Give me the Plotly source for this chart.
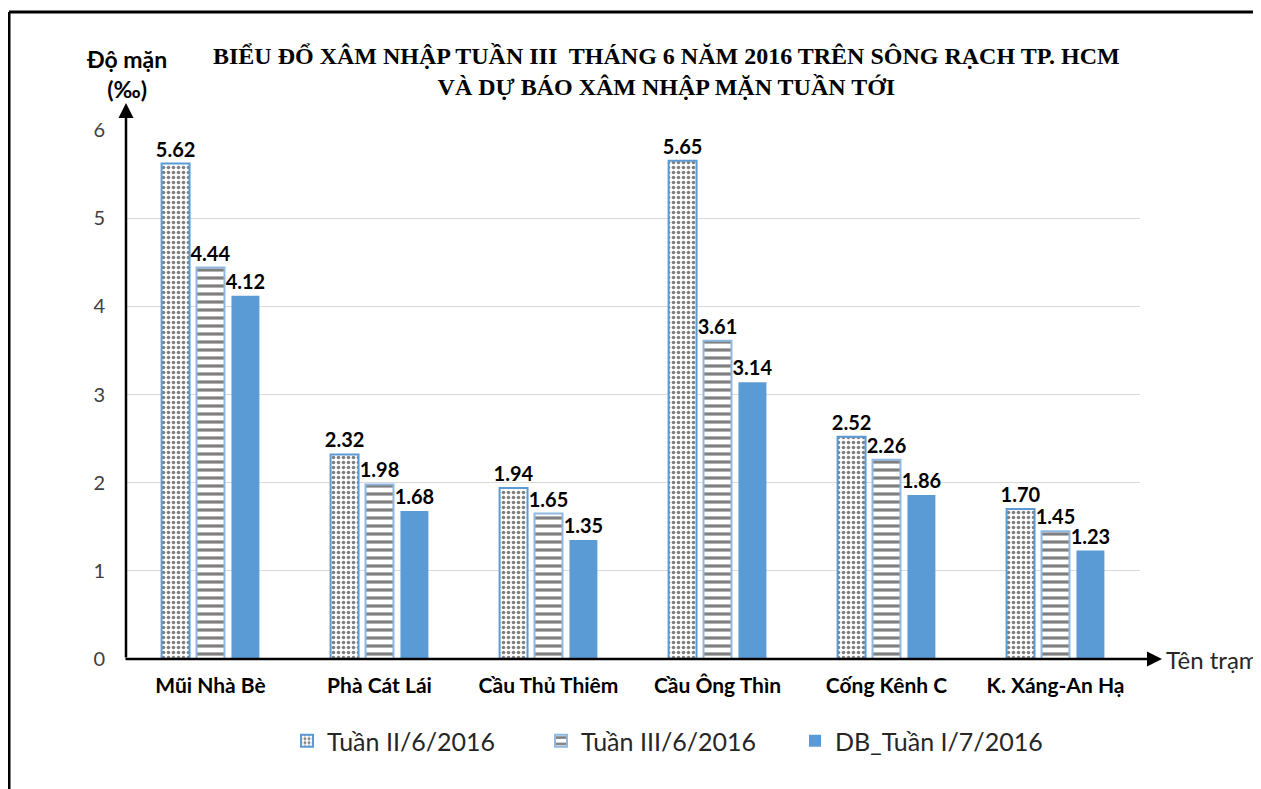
import plotly.graph_objects as go

stations = ["Mũi Nhà Bè", "Phà Cát Lái", "Cầu Thủ Thiêm", "Cầu Ông Thìn", "Cống Kênh C", "K. Xáng-An Hạ"]
series_names = ["Tuần II/6/2016", "Tuần III/6/2016", "DB_Tuần I/7/2016"]
tuan2 = [5.62, 2.32, 1.94, 5.65, 2.52, 1.70]
tuan3 = [4.44, 1.98, 1.65, 3.61, 2.26, 1.45]
db_tuan1 = [4.12, 1.68, 1.35, 3.14, 1.86, 1.23]
y_ticks = [0, 1, 2, 3, 4, 5, 6]

W, H = 1261, 789
OFF = 8  # page body margin
# plot area in page pixels: x 126..1140, y 130..659
L, R, T, B = 126 - OFF, W - (1140 - OFF), 130 - OFF, H - (659 - OFF)
pw, ph = W - L - R, H - T - B

def px_x(p):
    return (p - OFF - L) / pw

def px_y(p):
    return (H - B - (p - OFF)) / ph

FONT = "Lato, Open Sans, sans-serif"
label_font = dict(family=FONT, size=20, color="#000000")

fig = go.Figure()
fig.add_trace(go.Bar(
    x=stations, y=tuan2, name=series_names[0],
    marker=dict(color="white", line=dict(color="#5B9BD5", width=2),
                pattern=dict(shape=".", fgcolor="black", bgcolor="white", size=5, solidity=0.4)),
    text=[f"{v:.2f}" for v in tuan2], textposition="outside", constraintext="none",
    texttemplate="<b>%{text}</b>", textfont=label_font, cliponaxis=False,
))
fig.add_trace(go.Bar(
    x=stations, y=tuan3, name=series_names[1],
    marker=dict(color="white", line=dict(color="#8FB8E0", width=2),
                pattern=dict(shape="-", fgcolor="black", bgcolor="white", size=8, solidity=0.4)),
    text=[f"{v:.2f}" for v in tuan3], textposition="outside", constraintext="none",
    texttemplate="<b>%{text}</b>", textfont=label_font, cliponaxis=False,
))
fig.add_trace(go.Bar(
    x=stations, y=db_tuan1, name=series_names[2],
    marker=dict(color="#5B9BD5", line=dict(color="#5B9BD5", width=0)),
    text=[f"{v:.2f}" for v in db_tuan1], textposition="outside", constraintext="none",
    texttemplate="<b>%{text}</b>", textfont=label_font, cliponaxis=False,
))

fig.update_layout(
    width=W, height=H,
    margin=dict(l=L, r=R, t=T, b=B, autoexpand=False),
    paper_bgcolor="white", plot_bgcolor="white",
    barmode="group", bargap=0.38, bargroupgap=0.2,
    font=dict(family=FONT, color="#262626"),
    showlegend=True,
    legend=dict(orientation="h", x=px_x(668), xanchor="center", y=px_y(741), yanchor="middle",
                font=dict(size=25, color="#262626"), itemwidth=30,
                entrywidth=209, entrywidthmode="pixels",
                traceorder="normal"),
    xaxis=dict(showline=False, showgrid=False, zeroline=False, ticks="",
               tickfont=dict(family=FONT, size=21, color="#000000"),
               tickprefix="<b>", ticksuffix="</b>", ticklabelstandoff=12),
    yaxis=dict(range=[0, 6], tickvals=y_ticks, showline=False, zeroline=False,
               showgrid=True, gridcolor="#D9D9D9", gridwidth=1,
               tickfont=dict(family=FONT, size=20, color="#404040"),
               ticklabelstandoff=20),
)

# axis arrows
fig.add_annotation(x=0, y=px_y(103), xref="paper", yref="paper", ax=0, ay=(659 - 103),
                   axref="pixel", ayref="pixel", text="", showarrow=True,
                   arrowhead=2, arrowsize=1.2, arrowwidth=2.5, arrowcolor="black")
fig.add_annotation(x=px_x(1162), y=0, xref="paper", yref="paper", ax=-(1162 - 124), ay=0,
                   text="", showarrow=True,
                   arrowhead=2, arrowsize=1.2, arrowwidth=2.5, arrowcolor="black")

# axis titles
fig.add_annotation(x=px_x(1164), y=0, xref="paper", yref="paper", xanchor="left", yanchor="middle",
                   text="Tên trạm", showarrow=False,
                   font=dict(family=FONT, size=24, color="#262626"))
fig.add_annotation(x=px_x(126), y=px_y(74), xref="paper", yref="paper", xanchor="center", yanchor="middle",
                   text="<b>Độ mặn<br>(‰)</b>", showarrow=False,
                   font=dict(family=FONT, size=23, color="#000000"))

# title
fig.add_annotation(x=px_x(666), y=px_y(71), xref="paper", yref="paper", xanchor="center", yanchor="middle",
                   text="<b>BIỂU ĐỔ XÂM NHẬP TUẦN III  THÁNG 6 NĂM 2016 TRÊN SÔNG RẠCH TP. HCM<br>VÀ DỰ BÁO XÂM NHẬP MẶN TUẦN TỚI</b>",
                   showarrow=False,
                   font=dict(family="Liberation Serif, Times New Roman, serif", size=24, color="#000000"))

# outer frame (left and top)
fig.add_shape(type="line", xref="paper", yref="paper",
              x0=px_x(9), y0=px_y(H + 20), x1=px_x(9), y1=px_y(12),
              line=dict(color="black", width=3))
fig.add_shape(type="line", xref="paper", yref="paper",
              x0=px_x(9), y0=px_y(12), x1=px_x(W + 20), y1=px_y(12),
              line=dict(color="black", width=3))

fig.write_html("out.html")
